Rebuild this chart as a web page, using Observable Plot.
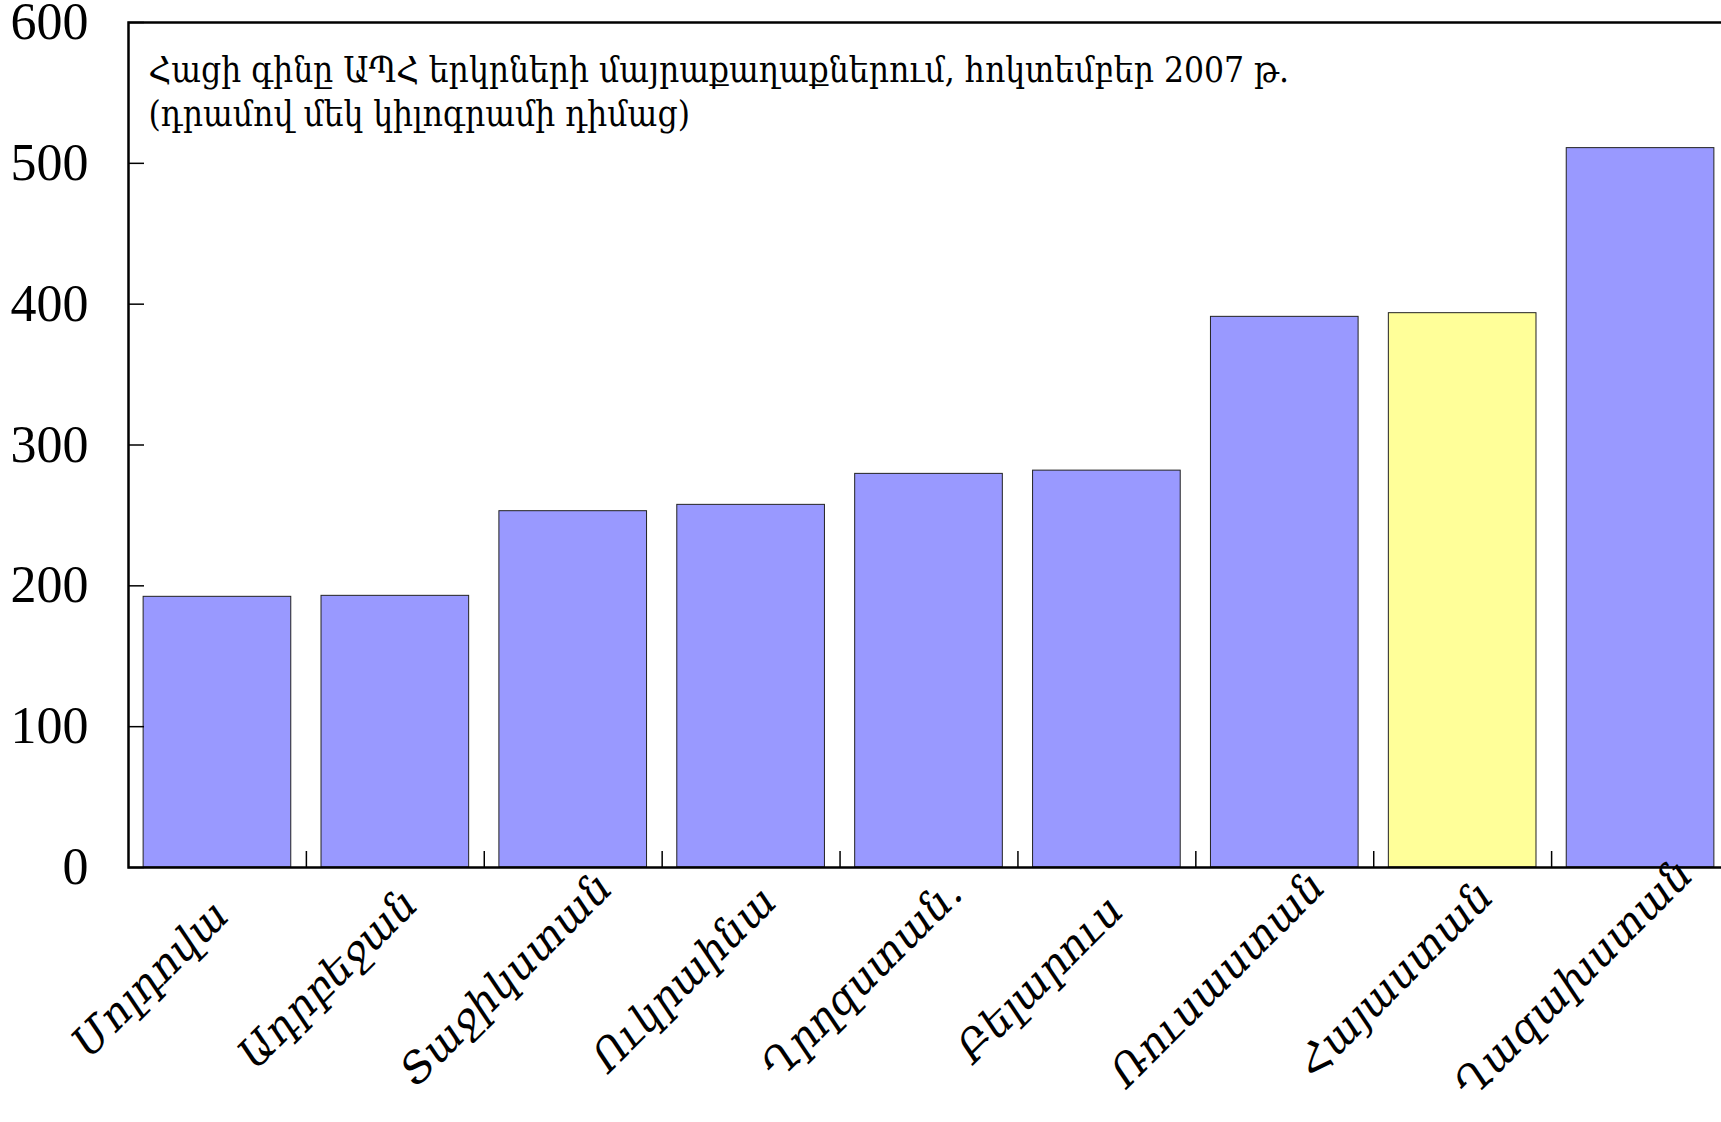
<!DOCTYPE html>
<html><head><meta charset="utf-8">
<script src="https://cdn.jsdelivr.net/npm/d3@7"></script>
<script src="https://cdn.jsdelivr.net/npm/@observablehq/plot@0.6"></script>
<style>html,body{margin:0;padding:0;background:#fff} svg{display:block}</style>
</head><body><div id="chart"></div>
<script>
const countries = ["Մոլդովա","Ադրբեջան","Տաջիկստան","Ուկրաինա","Ղրղզստան.","Բելարուս","Ռուսաստան","Հայաստան","Ղազախստան"];
const prices = [192.2, 192.9, 253.0, 257.5, 279.5, 281.8, 391.0, 393.6, 510.8];
const highlight = "Հայաստան";
const yTicks = [0, 100, 200, 300, 400, 500, 600];
const subtitleLines = ["Հացի գինը ԱՊՀ երկրների մայրաքաղաքներում, հոկտեմբեր 2007 թ.", "(դրամով մեկ կիլոգրամի դիմաց)"];

const data = countries.map((c, i) => ({country: c, price: prices[i]}));

const W = 1721, H = 1122, mL = 128, mR = -8, mT = 22, mB = 255;
const step = (W - mL - mR) / countries.length;
const serif = "'Liberation Serif', 'DejaVu Serif', serif";
const armSerif = "'DejaVu Serif', 'Liberation Serif', serif";

const chart = Plot.plot({
  width: W, height: H,
  marginLeft: mL, marginRight: mR, marginTop: mT, marginBottom: mB,
  style: {background: "#fff", color: "#000"},
  x: {domain: countries, paddingInner: 0.17, paddingOuter: 0.085, round: false, axis: null, label: null},
  y: {domain: [0, 600], axis: null, label: null},
  marks: [
    Plot.barY(data, {x: "country", y: "price",
      fill: d => d.country === highlight ? "#ffff99" : "#9999ff",
      stroke: "#222", strokeWidth: 1}),
    Plot.frame({stroke: "#000", strokeWidth: 2.5}),
    Plot.axisY(yTicks, {anchor: "left", tickSize: 0, tickPadding: 40, label: null,
      fontSize: 52, fontFamily: serif}),
    Plot.axisY(yTicks, {anchor: "left", tickSize: 16, dx: 16, tickFormat: () => "", label: null, strokeWidth: 1.5}),
    Plot.axisX(countries.slice(1), {anchor: "bottom", tickSize: 16, dy: -16, dx: -step / 2,
      tickFormat: () => "", label: null, strokeWidth: 1.5}),
    Plot.text(countries, {x: d => d, frameAnchor: "bottom", rotate: -45,
      textAnchor: "middle", lineAnchor: "middle", dx: -67, dy: 112,
      fontSize: 42, fontStyle: "italic", fontFamily: armSerif, fill: "#000"}),
    Plot.text([subtitleLines.join("\n")], {frameAnchor: "top-left", textAnchor: "start",
      lineAnchor: "top", dx: 20, dy: 28, fontSize: 35, lineHeight: 1.26,
      fontFamily: "'DejaVu Serif Condensed', 'DejaVu Serif', serif", fill: "#000"})
  ]
});
document.getElementById("chart").appendChild(chart);
</script>
</body></html>
